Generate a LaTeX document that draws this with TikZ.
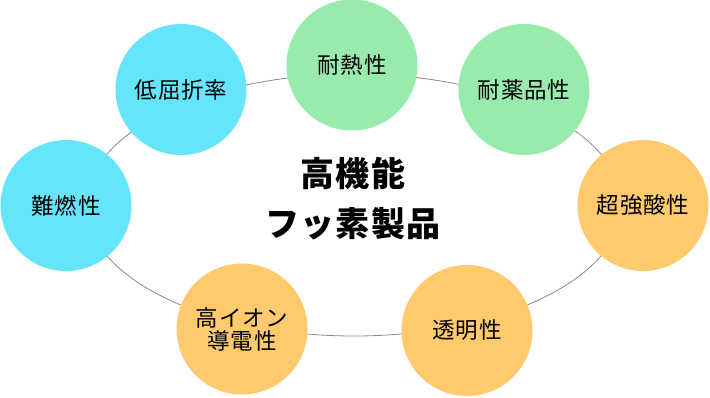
\documentclass[tikz,border=0pt]{standalone}
\usepackage{fontspec}
\setmainfont{Noto Sans CJK JP}
\newfontfamily\circfont[LetterSpace=4]{Noto Sans CJK JP}
\newfontfamily\titlefont[LetterSpace=4]{Noto Sans CJK JP}
\definecolor{cyanc}{RGB}{102,229,250}
\definecolor{greenc}{RGB}{153,235,173}
\definecolor{orangec}{RGB}{255,202,110}
\definecolor{ringc}{RGB}{136,136,136}
\tikzset{
  feat/.style={circle, minimum size=131pt, inner sep=0pt, align=center,
    font=\circfont\fontsize{22.5}{23}\selectfont, text=black},
  ring/.style={draw=ringc, line width=0.8pt},
}
\begin{document}
\begin{tikzpicture}[x=1pt,y=-1pt]
\useasboundingbox (0,0) rectangle (710,397);
\coordinate (ctr) at (354,205);
\draw[ring] (ctr) ellipse [x radius=268, y radius=131];
\node[feat, fill=cyanc] (lowref) at (181,89.5) {低屈折率};
\node[feat, fill=greenc] (heat) at (352,65) {耐熱性};
\node[feat, fill=greenc] (chem) at (524,89.5) {耐薬品性};
\node[feat, fill=orangec] (acid) at (643,205.5) {超強酸性};
\node[feat, fill=orangec] (trans) at (467,330.5) {透明性};
\node[feat, fill=orangec] (ion) at (242,329) {高イオン\\導電性};
\node[feat, fill=cyanc] (flame) at (66,205.5) {難燃性};
\node[align=center, font=\titlefont\bfseries\fontsize{34}{50}\selectfont] (title) at (353,199) {高機能\\フッ素製品};
\end{tikzpicture}
\end{document}
